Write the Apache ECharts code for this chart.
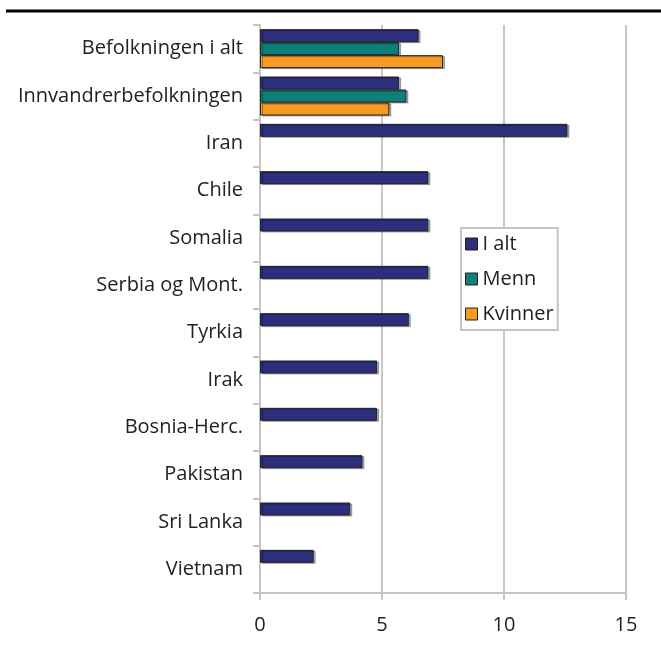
<!DOCTYPE html>
<html>
<head>
<meta charset="utf-8">
<script src="https://cdn.jsdelivr.net/npm/echarts@6/dist/echarts.min.js"></script>
<style>
  html, body { margin: 0; padding: 0; background: #fff; }
  #chart { width: 661px; height: 653px; }
</style>
</head>
<body>
<div id="chart"></div>
<script>
var categories = ['Befolkningen i alt', 'Innvandrerbefolkningen', 'Iran', 'Chile', 'Somalia',
  'Serbia og Mont.', 'Tyrkia', 'Irak', 'Bosnia-Herc.', 'Pakistan', 'Sri Lanka', 'Vietnam'];
var iAlt = [6.5, 5.7, 12.6, 6.9, 6.9, 6.9, 6.1, 4.8, 4.8, 4.2, 3.7, 2.2];
var menn = [5.7, 6.0, null, null, null, null, null, null, null, null, null, null];
var kvinner = [7.5, 5.3, null, null, null, null, null, null, null, null, null, null];
var xTicks = [0, 5, 10, 15];

var chart = echarts.init(document.getElementById('chart'));
var font = '"Open Sans", "Noto Sans", sans-serif';
var barStyle = function (c) {
  return {
    color: c,
    borderColor: '#222',
    borderWidth: 1,
    shadowColor: 'rgba(0,0,0,0.3)',
    shadowOffsetX: 2,
    shadowOffsetY: 1,
    shadowBlur: 0
  };
};
var option = {
  animation: false,
  textStyle: { fontFamily: font },
  grid: { left: 260, right: 35, top: 25, bottom: 60 },
  graphic: [{
    type: 'line',
    shape: { x1: 6, y1: 11, x2: 661, y2: 11 },
    style: { stroke: '#000', lineWidth: 3 }
  }],
  legend: {
    orient: 'vertical',
    left: 461, top: 228,
    padding: [6, 4, 6, 4],
    itemGap: 15,
    itemWidth: 12, itemHeight: 12,
    icon: 'rect',
    borderColor: '#c4c4c4', borderWidth: 2,
    backgroundColor: '#fff',
    textStyle: { fontSize: 20, color: '#222', fontFamily: font },
    data: [
      { name: 'I alt', itemStyle: { color: '#2b2f7e', borderColor: '#222', borderWidth: 1 } },
      { name: 'Menn', itemStyle: { color: '#0f7f78', borderColor: '#222', borderWidth: 1 } },
      { name: 'Kvinner', itemStyle: { color: '#f59a23', borderColor: '#222', borderWidth: 1 } }
    ]
  },
  xAxis: {
    type: 'value',
    min: 0, max: 15, interval: 5,
    axisLine: { show: true, lineStyle: { color: '#c4c4c4', width: 2 } },
    axisTick: { show: true, length: 7, lineStyle: { color: '#c4c4c4', width: 2 } },
    splitLine: { show: true, lineStyle: { color: '#c8c8c8', width: 2 } },
    axisLabel: {
      fontSize: 20, color: '#222', margin: 22,
      formatter: function (v) { return xTicks.indexOf(v) >= 0 ? String(v) : ''; }
    }
  },
  yAxis: {
    type: 'category',
    inverse: true,
    data: categories,
    axisLine: { show: true, lineStyle: { color: '#c4c4c4', width: 2 } },
    axisTick: { show: true, length: 7, lineStyle: { color: '#c4c4c4', width: 2 } },
    axisLabel: { fontSize: 20, color: '#222', margin: 17, padding: [5, 0, 0, 0] }
  },
  series: [
    { name: 'I alt', type: 'bar', data: iAlt, barWidth: 13, barGap: '0%', itemStyle: barStyle('#2b2f7e') },
    { name: 'Menn', type: 'bar', data: menn, barWidth: 13, barGap: '0%', itemStyle: barStyle('#0f7f78') },
    { name: 'Kvinner', type: 'bar', data: kvinner, barWidth: 13, barGap: '0%', itemStyle: barStyle('#f59a23') }
  ]
};
chart.setOption(option);
</script>
</body>
</html>
